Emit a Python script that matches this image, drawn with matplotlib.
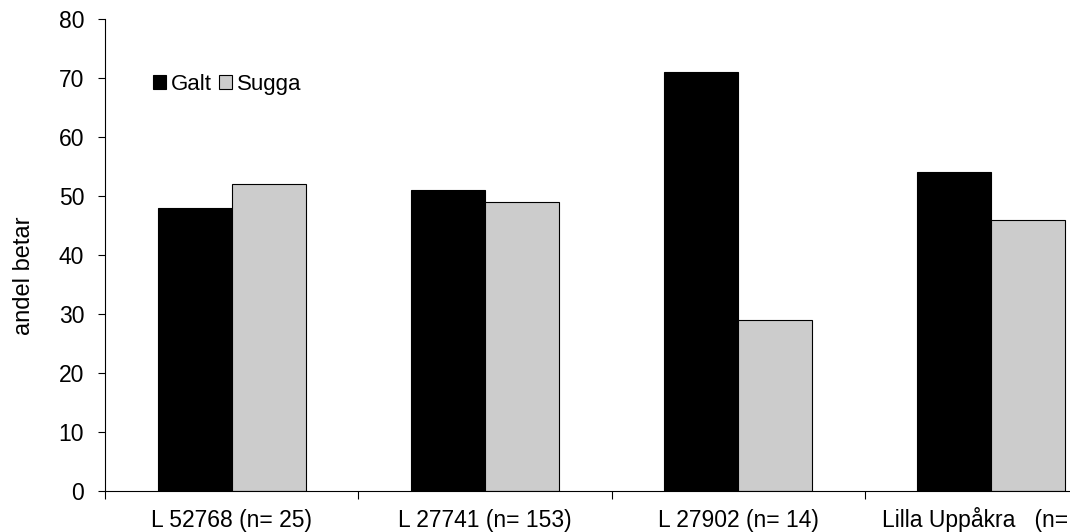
import numpy as np
import matplotlib.pyplot as plt

plt.rcParams['font.family'] = ['Liberation Sans', 'DejaVu Sans']

categories = ['L 52768 (n= 25)', 'L 27741 (n= 153)', 'L 27902 (n= 14)', 'Lilla Uppåkra   (n=']
galt = [48, 51, 71, 54]
sugga = [52, 49, 29, 46]

fs = 16.5

fig = plt.figure(figsize=(10.7, 5.32), dpi=100)
ax = fig.add_axes([105 / 1070, 41 / 532, 1013 / 1070, 472 / 532])

x = np.arange(len(categories))
w = 0.292
ax.bar(x - w / 2, galt, w, color='black', edgecolor='black', linewidth=0.8, label='Galt')
ax.bar(x + w / 2, sugga, w, color='#cccccc', edgecolor='black', linewidth=0.8, label='Sugga')

ax.set_xlim(-0.5, 3.5)
ax.set_ylim(0, 80)
ax.set_yticks(range(0, 81, 10))
ax.tick_params(axis='y', labelsize=fs, length=5, width=0.8, pad=10)

# tick marks only at category boundaries
ax.set_xticks(np.arange(-0.5, 3.6, 1.0))
ax.set_xticklabels([])
ax.tick_params(axis='x', length=6, width=0.8)

# category labels on a common baseline; the last one runs off the figure edge
for i, lab in enumerate(categories):
    last = i == len(categories) - 1
    ax.annotate(lab, xy=(x[i], 0), xycoords=('data', 'axes fraction'),
                xytext=(-78.9 if last else 0, -26), textcoords='offset points',
                ha='left' if last else 'center', va='baseline',
                fontsize=fs, annotation_clip=False)

for s in ['top', 'right']:
    ax.spines[s].set_visible(False)
ax.spines['left'].set_linewidth(0.8)
ax.spines['bottom'].set_linewidth(0.8)

ax.set_ylabel('andel betar', fontsize=fs + 0.5)
ax.yaxis.set_label_coords(-0.069, 0.455)

ax.legend(loc='upper left', bbox_to_anchor=(0.0474, 0.884), ncol=2, frameon=False,
          fontsize=16, handlelength=0.6, handleheight=0.6, handletextpad=0.22,
          columnspacing=0.3, borderpad=0, borderaxespad=0)

fig.savefig('out.png', dpi=100)
